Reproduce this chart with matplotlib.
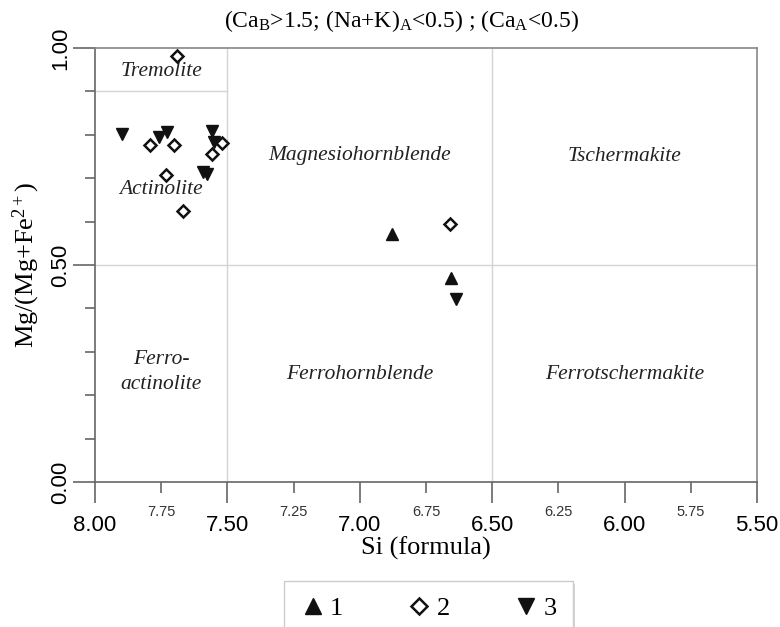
import numpy as np
import matplotlib
matplotlib.use("Agg")
import matplotlib.pyplot as plt
from matplotlib.ticker import MultipleLocator, FormatStrFormatter

plt.rcParams['mathtext.fontset'] = 'custom'
plt.rcParams['mathtext.rm'] = 'Liberation Serif'
plt.rcParams['mathtext.it'] = 'Liberation Serif:italic'

SERIF = ['Liberation Serif', 'DejaVu Serif']
SANS = ['Liberation Sans', 'DejaVu Sans']

# Данные: Si (formula) и Mg/(Mg+Fe2+)
si_1 = [6.88, 6.657]
mg_1 = [0.571, 0.471]

si_2 = [7.69, 7.792, 7.70, 7.522, 7.56, 7.73, 7.667, 6.659]
mg_2 = [0.981, 0.776, 0.776, 0.780, 0.755, 0.707, 0.624, 0.594]

si_3 = [7.897, 7.758, 7.727, 7.557, 7.551, 7.593, 7.576, 6.638]
mg_3 = [0.801, 0.796, 0.807, 0.809, 0.784, 0.715, 0.710, 0.422]

series_labels = ['1', '2', '3']

# Поля классификации амфиболов
field_names = ['Tremolite', 'Actinolite', 'Magnesiohornblende', 'Tschermakite',
               'Ferro-\nactinolite', 'Ferrohornblende', 'Ferrotschermakite']
field_x = [7.75, 7.75, 7.0, 6.0, 7.75, 7.0, 6.0]
field_y = [0.945, 0.673, 0.753, 0.749, 0.253, 0.247, 0.247]

fig = plt.figure(figsize=(7.8, 6.27), dpi=100)
ax = fig.add_axes([95 / 780, 1 - 482 / 627, 662 / 780, 434 / 627])

# Границы полей
line_col = '#d4d4d4'
ax.axvline(7.5, color=line_col, lw=1, zorder=1)
ax.axvline(6.5, color=line_col, lw=1, zorder=1)
ax.axhline(0.5, color=line_col, lw=1, zorder=1)
ax.plot([8.0, 7.5], [0.9, 0.9], color=line_col, lw=1, zorder=1)

for name, x, y in zip(field_names, field_x, field_y):
    ax.text(x, y, name, ha='center', va='center', fontsize=15.5,
            style='italic', family=SERIF, color='#222222', linespacing=1.45)

ax.plot(si_1, mg_1, '^', ms=8.5, color='#111111', ls='none',
        label=series_labels[0], zorder=3)
ax.plot(si_2, mg_2, 'D', ms=5.8, mfc='white', mec='#111111', mew=1.8,
        ls='none', label=series_labels[1], zorder=3)
ax.plot(si_3, mg_3, 'v', ms=8.5, color='#111111', ls='none',
        label=series_labels[2], zorder=3)

ax.set_xlim(8.0, 5.5)
ax.set_ylim(0.0, 1.0)

spine_col = '#666666'
for s in ax.spines.values():
    s.set_color(spine_col)
    s.set_linewidth(1.2)
ax.spines['top'].set_color('#888888')
ax.spines['right'].set_color('#888888')

ax.xaxis.set_major_locator(MultipleLocator(0.5))
ax.xaxis.set_minor_locator(MultipleLocator(0.25))
ax.xaxis.set_major_formatter(FormatStrFormatter('%.2f'))
# подписи малых делений, без совпадающих с большими
ax.xaxis.set_minor_formatter(
    plt.FuncFormatter(lambda v, p: '' if abs(v * 2 - round(v * 2)) < 1e-6 else '%.2f' % v))
ax.yaxis.set_major_locator(MultipleLocator(0.5))
ax.yaxis.set_minor_locator(MultipleLocator(0.1))
ax.yaxis.set_major_formatter(FormatStrFormatter('%.2f'))

ax.tick_params(axis='x', which='major', length=15, width=1.2, color=spine_col,
               pad=9, labelsize=16)
ax.tick_params(axis='x', which='minor', length=8, width=1.2, color=spine_col,
               pad=8.5, labelsize=10.5, labelcolor='#333333')
ax.tick_params(axis='y', which='major', length=16, width=1.2, color=spine_col,
               pad=1, labelsize=16, labelrotation=90)
ax.tick_params(axis='y', which='minor', length=7, width=1.2, color=spine_col)
for lab in (ax.get_xticklabels() + ax.get_xticklabels(minor=True)
            + ax.get_yticklabels()):
    lab.set_family(SANS)
for lab in ax.get_yticklabels():
    lab.set_va('center')

ax.set_xlabel('Si (formula)', fontsize=19, family=SERIF, labelpad=0)
ax.set_ylabel(r'Mg/(Mg+Fe$^{2+}$)', fontsize=19, family=SERIF, labelpad=6)

fig.text(402 / 780, 1 - 21 / 627,
         r'(Ca$_\mathrm{B}$>1.5; (Na+K)$_\mathrm{A}$<0.5) ; (Ca$_\mathrm{A}$<0.5)',
         ha='center', va='center', fontsize=17, family=SERIF)

leg = fig.legend(loc='upper center', bbox_to_anchor=(428 / 780, 1 - 581 / 627),
                 ncol=3, prop={'family': SERIF, 'size': 19},
                 markerscale=1.4, handlelength=1.0, handletextpad=0.15,
                 columnspacing=2.4, borderpad=0.6, borderaxespad=0,
                 fancybox=False, edgecolor='#cccccc', framealpha=1,
                 shadow={'facecolor': '#d6d6d6', 'edgecolor': 'none', 'alpha': 1})
leg.get_frame().set_linewidth(1.0)

fig.savefig('out.png', dpi=100)
